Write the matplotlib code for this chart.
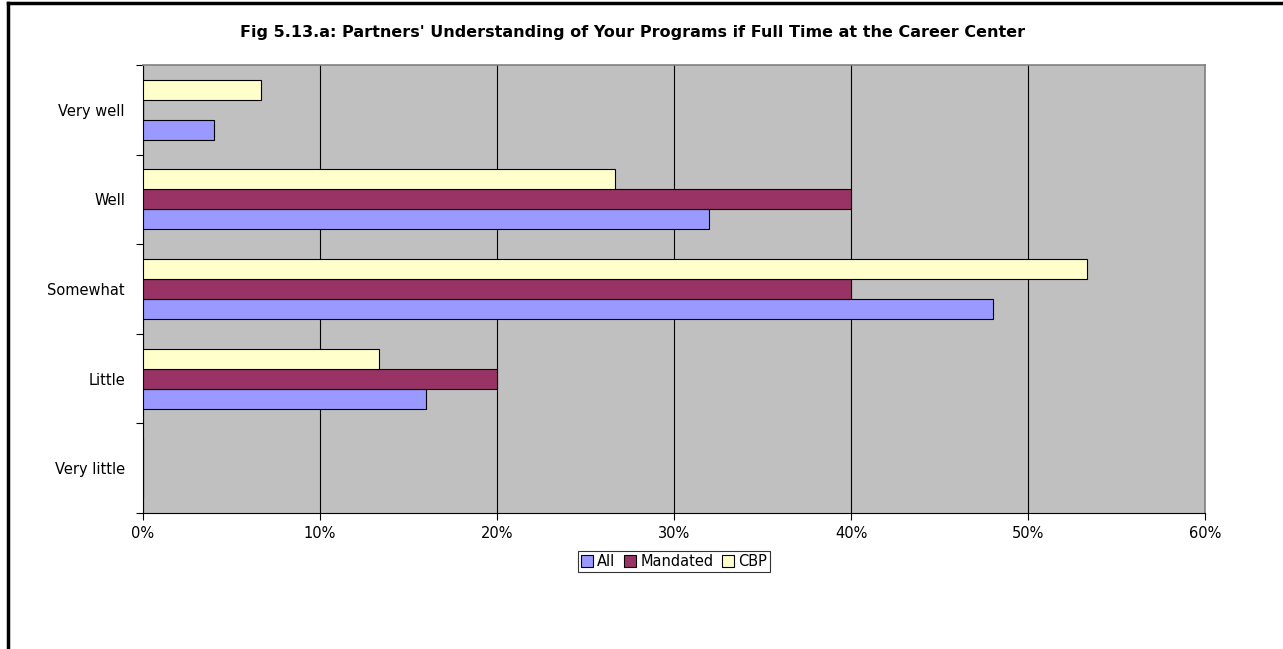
import numpy as np
import matplotlib.pyplot as plt
from matplotlib.ticker import PercentFormatter

plt.rcParams['font.family'] = ['DejaVu Sans']

# Categories top to bottom
categories = ['Very well', 'Well', 'Somewhat', 'Little', 'Very little']
series = ['All', 'Mandated', 'CBP']
all_vals = [4.0, 32.0, 48.0, 16.0, 0.0]
mandated_vals = [0.0, 40.0, 40.0, 20.0, 0.0]
cbp_vals = [6.67, 26.67, 53.33, 13.33, 0.0]
colors = ['#9999FF', '#993366', '#FFFFCC']

W, H = 1283, 649
fig = plt.figure(figsize=(W / 100, H / 100), dpi=100)
ax = fig.add_axes([143 / W, 1 - 513 / H, (1205 - 143) / W, (513 - 65) / H])
ax.set_facecolor('#C0C0C0')

y = np.arange(len(categories))[::-1]  # top category at highest y
h = 0.223
offsets = [-h, 0, h]
for vals, off, col, lab in zip([all_vals, mandated_vals, cbp_vals], offsets, colors, series):
    ax.barh(y + off, vals, height=h, color=col, edgecolor='black', linewidth=0.8, label=lab, zorder=3)

ax.set_xlim(0, 60)
ax.set_ylim(-0.5, len(categories) - 0.5)
ax.set_xticks(np.arange(0, 61, 10))
ax.xaxis.set_major_formatter(PercentFormatter(decimals=0))
ax.grid(axis='x', color='black', linewidth=0.8, zorder=1)

# y ticks at category boundaries, labels at centres
ax.set_yticks(np.arange(-0.5, len(categories), 1))
ax.set_yticklabels([])
ax.set_yticks(y, minor=True)
ax.set_yticklabels(categories, minor=True)
ax.tick_params(axis='y', which='minor', length=0, pad=13)
ax.tick_params(axis='y', which='major', length=5, direction='out')
ax.tick_params(axis='x', length=5, direction='out', pad=4)
ax.tick_params(which='both', labelsize=10.5)

for s in ['top', 'right']:
    ax.spines[s].set_color('#808080')
    ax.spines[s].set_linewidth(1.2)
for s in ['left', 'bottom']:
    ax.spines[s].set_color('black')

fig.text(633 / W, 1 - 33 / H, "Fig 5.13.a: Partners' Understanding of Your Programs if Full Time at the Career Center",
         ha='center', va='center', fontsize=11.5, fontweight='bold')

leg = fig.legend(loc='center', bbox_to_anchor=(674 / W, 1 - 561.5 / H), ncol=3, frameon=True,
                 fontsize=10.5, handlelength=0.8, handleheight=0.8, handletextpad=0.3,
                 columnspacing=0.6, borderpad=0.2, fancybox=False)
leg.get_frame().set_edgecolor('black')
leg.get_frame().set_linewidth(0.8)

# figure border on top and left
fig.add_artist(plt.Line2D([7.5 / W, 1], [1 - 3 / H, 1 - 3 / H], color='black', linewidth=2.5))
fig.add_artist(plt.Line2D([7.5 / W, 7.5 / W], [0, 1 - 3 / H], color='black', linewidth=2.5))

fig.savefig('out.png', dpi=100)
